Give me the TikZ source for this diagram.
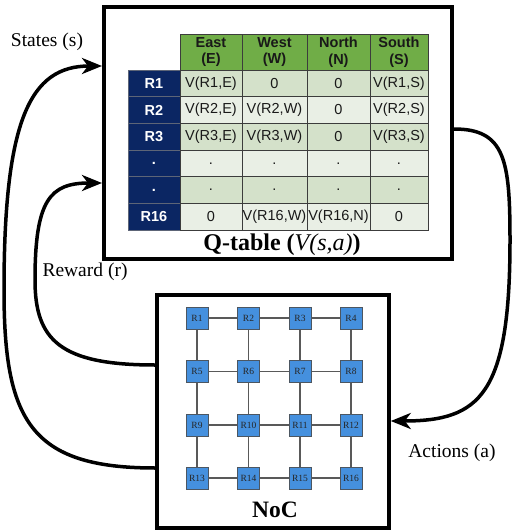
\documentclass[tikz,border=0pt]{standalone}
\usepackage{fontspec}
\setmainfont{Liberation Serif}
\newfontfamily\arialf{Liberation Sans}
\usetikzlibrary{arrows.meta}
\definecolor{hdrgreen}{HTML}{70AD47}
\definecolor{navyc}{HTML}{0B2663}
\definecolor{rowdark}{HTML}{D4E1CA}
\definecolor{rowlight}{HTML}{E9EFE5}
\definecolor{routerc}{HTML}{4590DE}
\definecolor{rborder}{HTML}{4C5661}
\definecolor{gridc}{HTML}{3C3C3C}
\tikzset{
  frame/.style={draw=black, line width=4pt, fill=none, inner sep=0pt},
  cellbox/.style={draw=gridc, line width=0.8pt, inner sep=0pt, font=\arialf\fontsize{14.5}{16}\selectfont, text=black!90},
  hdrcell/.style={cellbox, fill=hdrgreen, minimum height=36pt, align=center, font=\arialf\bfseries\fontsize{14.5}{16.5}\selectfont},
  labcell/.style={cellbox, draw=gray!70!navyc, fill=navyc, text=white, minimum width=52pt, minimum height=26.67pt, font=\arialf\bfseries\fontsize{14.5}{16}\selectfont},
  router/.style={draw=rborder, line width=1pt, fill=routerc, minimum width=22pt, minimum height=22pt, inner sep=0pt, font=\fontsize{9.5}{11}\selectfont, text=black!85},
  link/.style={draw=black!65, line width=1.2pt},
  flow/.style={line width=3.5pt, -{Stealth[length=20pt, width=16pt, inset=6pt]}},
  lbl/.style={font=\fontsize{19.5}{22}\selectfont, inner sep=0pt}
}
\begin{document}
\begin{tikzpicture}[x=1pt, y=-1pt]
\useasboundingbox (0,0) rectangle (512,530);
% Q-table frame
\node[frame, minimum width=348pt, minimum height=252pt] (qt) at (278,133) {};
% header
\node[hdrcell, minimum width=62pt] (hE) at (211,52) {East\\(E)};
\node[hdrcell, minimum width=65pt] (hW) at (274.5,52) {West\\(W)};
\node[hdrcell, minimum width=63pt] (hN) at (338.5,52) {North\\(N)};
\node[hdrcell, minimum width=58pt] (hS) at (399,52) {South\\(S)};
% rows
\foreach \i/\lab/\a/\b/\c/\d/\col in {
  1/R1/{V(R1,E)}/0/0/{V(R1,S)}/rowdark,
  2/R2/{V(R2,E)}/{V(R2,W)}/0/{V(R2,S)}/rowlight,
  3/R3/{V(R3,E)}/{V(R3,W)}/0/{V(R3,S)}/rowdark,
  4/./././././rowlight,
  5/./././././rowdark,
  6/R16/0/{V(R16,W)}/{V(R16,N)}/0/rowlight}{
  \pgfmathsetmacro\yc{70+(\i-1)*26.667+13.333}
  \node[labcell] (lab\i) at (154,\yc) {\lab};
  \node[cellbox, fill=\col, minimum width=62pt, minimum height=26.67pt] (e\i) at (211,\yc) {\a};
  \node[cellbox, fill=\col, minimum width=65pt, minimum height=26.67pt] (w\i) at (274.5,\yc) {\b};
  \node[cellbox, fill=\col, minimum width=63pt, minimum height=26.67pt] (n\i) at (338.5,\yc) {\c};
  \node[cellbox, fill=\col, minimum width=58pt, minimum height=26.67pt] (s\i) at (399,\yc) {\d};
}
\node[inner sep=0pt, font=\bfseries\fontsize{24}{28}\selectfont] (qtitle) at (282,245) {Q-table (\textmd{\itshape V(s,a)})};
% NoC frame
\node[frame, line width=3.5pt, minimum width=232pt, minimum height=233pt] (noc) at (273,411.5) {};
\foreach \row/\yy in {0/318,1/371.5,2/425,3/478}{
  \foreach \col/\xx in {0/197,1/248.5,2/300,3/351}{
    \pgfmathtruncatemacro\id{\row*4+\col+1}
    \node[router] (r\id) at (\xx,\yy) {R\id};
  }
}
\foreach \a/\b in {1/2,2/3,3/4,5/6,6/7,7/8,9/10,10/11,11/12,13/14,14/15,15/16,
                   1/5,5/9,9/13,2/6,6/10,10/14,3/7,7/11,11/15,4/8,8/12,12/16}
  \draw[link] (r\a) -- (r\b);
\node[inner sep=0pt, font=\bfseries\fontsize{23.5}{27}\selectfont] (noclbl) at (275,510) {NoC};
% labels
\node[lbl] (states) at (47,42) {States (s)};
\node[lbl] (reward) at (85,272) {Reward (r)};
\node[lbl] (actions) at (452,453) {Actions (a)};
% flows
\draw[flow] ([yshift=-56.5pt]noc.west) .. controls (30,468) and (4,420) .. (4,290)
            .. controls (4,120) and (30,66) .. ([yshift=67pt]qt.west);
\draw[flow] ([yshift=46.5pt]noc.west) .. controls (60,365) and (35,340) .. (35,280)
            .. controls (35,200) and (50,183) .. ([yshift=-50pt]qt.west);
\draw[flow] ([yshift=4pt]qt.east) .. controls (505,129) and (510,160) .. (510,240)
            .. controls (510,395) and (480,421) .. ([yshift=-9.5pt]noc.east);
\end{tikzpicture}
\end{document}
